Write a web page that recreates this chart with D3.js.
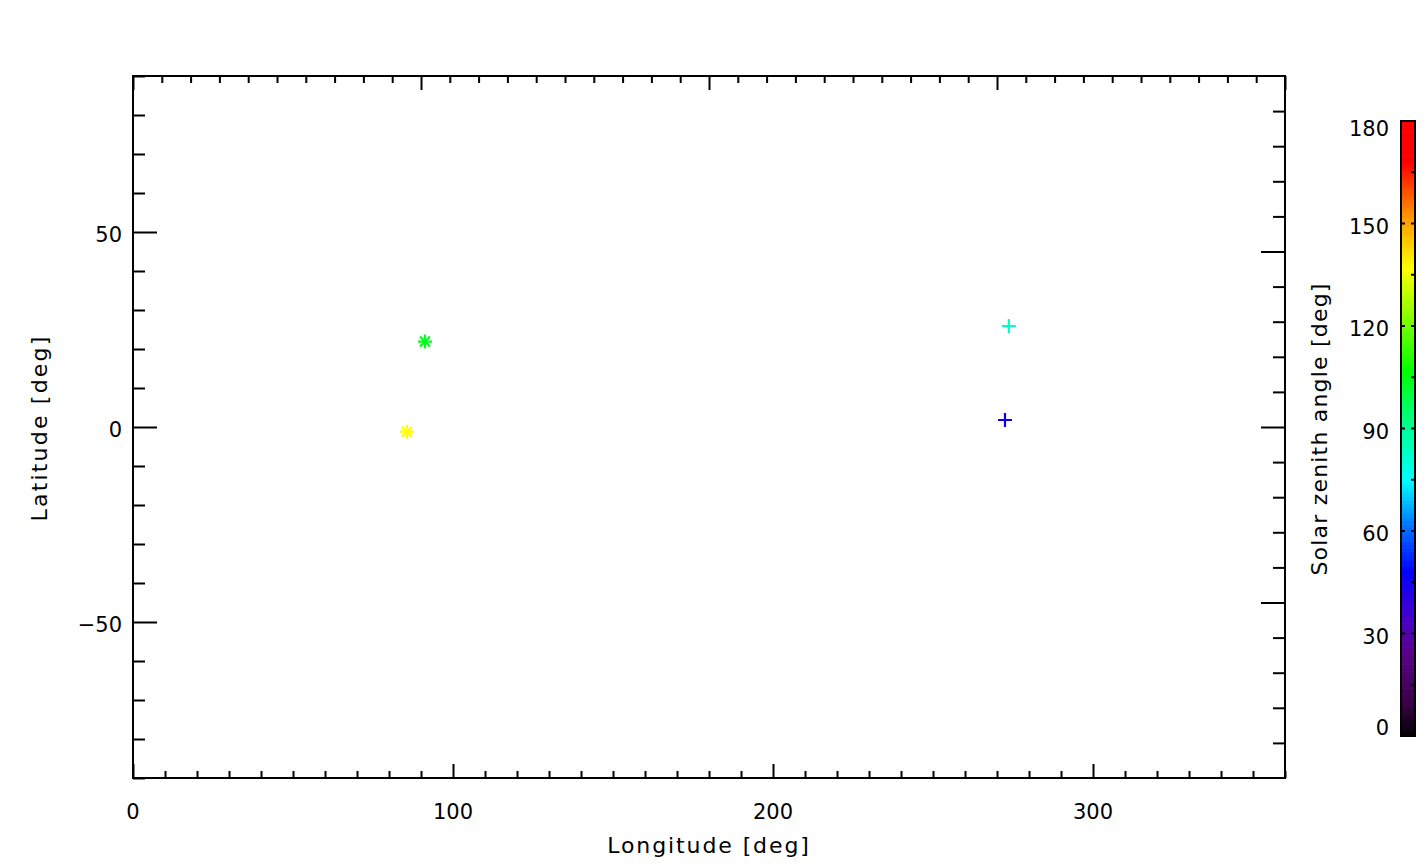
<!DOCTYPE html>
<html>
<head>
<meta charset="utf-8">
<script src="https://cdn.jsdelivr.net/npm/d3@7"></script>
<style>
  html, body { margin: 0; padding: 0; background: #fff; }
  svg { display: block; }
  text { font-family: "DejaVu Sans", sans-serif; fill: #000; }
</style>
</head>
<body>
<svg id="chart" width="1426" height="866"></svg>
<script>
// ---- data ----
const lon = [85.6, 91.25, 273.7, 272.5];
const lat = [-1.2, 21.9, 25.9, 1.8];
const sza = [137, 104, 83, 46];
const symbols = ["asterisk", "asterisk", "plus", "plus"];

const xTickLabels = [0, 100, 200, 300];
const yTickLabels = [-50, 0, 50];
const cbTickLabels = [0, 30, 60, 90, 120, 150, 180];

// colour table (solar zenith angle -> colour)
const cmapValues = [0, 10, 25, 35, 48, 62, 75, 90, 107, 137, 152, 168, 180];
const cmapColors = ["#000000", "#3c0046", "#5a008c", "#4600c8", "#0000ff", "#0078ff",
                    "#00ffff", "#00ff96", "#00ff00", "#ffff00", "#ff9600", "#ff0000", "#ff0000"];

// ---- layout ----
const svg = d3.select("#chart");
const L = 133, R = 1285, T = 76, B = 778;
const x = d3.scaleLinear().domain([0, 360]).range([L, R]);
const y = d3.scaleLinear().domain([-90, 90]).range([B, T]);
const xTop = d3.scaleLinear().domain([0, 400]).range([L, R]);
const yRight = d3.scaleLinear().domain([-1, 1]).range([B, T]);
const color = d3.scaleLinear().domain(cmapValues).range(cmapColors).interpolate(d3.interpolateRgb);

svg.append("rect").attr("width", 1426).attr("height", 866).attr("fill", "#fff");

function tickAxis(axisFn, scale, values, size, tx, ty) {
  const g = svg.append("g").attr("transform", `translate(${tx},${ty})`)
    .call(axisFn(scale).tickValues(values).tickSizeInner(size).tickSizeOuter(0).tickFormat(""));
  g.select(".domain").remove();
  g.selectAll(".tick line").attr("stroke", "#000").attr("stroke-width", 2);
  return g;
}

const xMinor = d3.range(0, 361, 10).filter(v => v % 100 !== 0);
const xMajor = d3.range(0, 361, 100);
tickAxis(d3.axisBottom, x, xMinor, -7, 0, B);
tickAxis(d3.axisBottom, x, xMajor, -14, 0, B);

const tMinor = d3.range(0, 401, 10).filter(v => v % 100 !== 0);
const tMajor = d3.range(0, 401, 100);
tickAxis(d3.axisTop, xTop, tMinor, -7, 0, T);
tickAxis(d3.axisTop, xTop, tMajor, -14, 0, T);

const yMinor = d3.range(-90, 91, 10).filter(v => v % 50 !== 0);
const yMajor = [-50, 0, 50];
tickAxis(d3.axisLeft, y, yMinor, -12, L, 0);
tickAxis(d3.axisLeft, y, yMajor, -24, L, 0);

const rMinor = d3.range(-10, 11, 1).filter(v => v % 5 !== 0).map(v => v / 10);
const rMajor = [-0.5, 0, 0.5];
tickAxis(d3.axisRight, yRight, rMinor, -12, R, 0);
tickAxis(d3.axisRight, yRight, rMajor, -24, R, 0);

// frame
svg.append("rect").attr("x", L).attr("y", T).attr("width", R - L).attr("height", B - T)
  .attr("fill", "none").attr("stroke", "#000").attr("stroke-width", 2);

// tick labels
svg.append("g").selectAll("text").data(xTickLabels).join("text")
  .attr("x", d => x(d)).attr("y", 819).attr("text-anchor", "middle")
  .attr("font-size", 21)
  .text(d => d);

svg.append("g").selectAll("text").data(yTickLabels).join("text")
  .attr("x", 122).attr("y", d => y(d) + 10).attr("text-anchor", "end")
  .attr("font-size", 21)
  .text(d => d < 0 ? "\u2212" + Math.abs(d) : d);

// axis titles
svg.append("text").attr("x", 709).attr("y", 853).attr("text-anchor", "middle")
  .attr("font-size", 22).attr("letter-spacing", 1.9).text("Longitude [deg]");
svg.append("text").attr("transform", "translate(47,428) rotate(-90)").attr("text-anchor", "middle")
  .attr("font-size", 22).attr("letter-spacing", 2.2).text("Latitude [deg]");

// markers
const markerPath = {
  asterisk: "M-7,0H7M0,-7V7M-5,-5L5,5M-5,5L5,-5",
  plus: "M-7,0H7M0,-7V7"
};
svg.append("g").selectAll("path").data(d3.range(lon.length)).join("path")
  .attr("transform", i => `translate(${x(lon[i])},${y(lat[i])})`)
  .attr("d", i => markerPath[symbols[i]])
  .attr("fill", "none")
  .attr("stroke", i => color(sza[i]))
  .attr("stroke-width", 2.2);

// colour bar
const cbL = 1401, cbR = 1415, cbT = 121, cbB = 736;
const cb = d3.scaleLinear().domain([0, 180]).range([cbB, cbT]);
svg.append("g").selectAll("rect").data(d3.range(0, 180)).join("rect")
  .attr("x", cbL).attr("width", cbR - cbL)
  .attr("y", d => cb(d + 1)).attr("height", d => cb(d) - cb(d + 1) + 0.6)
  .attr("fill", d => color(d + 0.5));

svg.append("g").selectAll("line").data(d3.range(15, 180, 15)).join("line")
  .attr("x1", cbR - 4).attr("x2", cbR).attr("y1", d => cb(d)).attr("y2", d => cb(d))
  .attr("stroke", "#000").attr("stroke-width", 2);
svg.append("g").selectAll("line").data(d3.range(30, 180, 30)).join("line")
  .attr("x1", cbL).attr("x2", cbL + 4).attr("y1", d => cb(d)).attr("y2", d => cb(d))
  .attr("stroke", "#000").attr("stroke-width", 2);

svg.append("rect").attr("x", cbL).attr("y", cbT).attr("width", cbR - cbL).attr("height", cbB - cbT)
  .attr("fill", "none").attr("stroke", "#000").attr("stroke-width", 2);

svg.append("g").selectAll("text").data(cbTickLabels).join("text")
  .attr("x", 1389).attr("y", d => Math.max(cbT + 15, Math.min(cbB - 1, cb(d) + 10)))
  .attr("text-anchor", "end").attr("font-size", 21)
  .text(d => d);

svg.append("text").attr("transform", "translate(1327,429) rotate(-90)").attr("text-anchor", "middle")
  .attr("font-size", 22).attr("letter-spacing", 1.2).text("Solar zenith angle [deg]");
</script>
</body>
</html>
